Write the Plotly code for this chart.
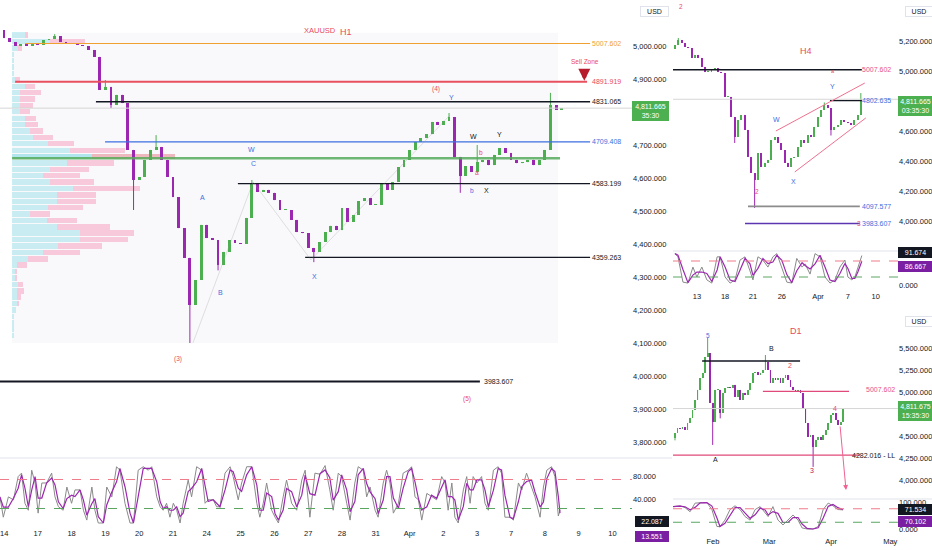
import plotly.graph_objects as go

W, H = 932, 550
def px(x): return x / W
def py(y): return 1 - y / H

GREEN = "#4caf50"
PURPLE = "#9c27b0"
RED = "#e84a5f"
BLUE = "#3d6fe0"
BLACK = "#131722"
ORANGE = "#f0a030"
PINK = "#e8528a"
FONT = "Liberation Sans Narrow, Liberation Sans, Arial, sans-serif"

# ---------------- H1 data (4-hour sampling of the hourly chart) ----------------
h1_day_labels = ["14", "17", "18", "19", "20", "21", "24", "25", "26", "27", "28",
                 "31", "Apr", "2", "3", "7", "8", "9", "10"]
h1_first_open = 5060
h1_close = [5048, 5024, 5012, 5000, 5006, 5000, 5009, 5003, 5018, 5021,
            5030, 5012, 5006, 5009, 5003, 5000, 4988, 4967, 4867, 4876,
            4821, 4852, 4827, 4685, 4594, 4603, 4655, 4685, 4694, 4655,
            4603, 4542, 4448, 4358, 4215, 4291, 4458, 4418, 4412, 4336,
            4376, 4412, 4403, 4400, 4479, 4585, 4558, 4564, 4555, 4533,
            4503, 4503, 4473, 4436, 4433, 4388, 4376, 4406, 4436, 4455,
            4442, 4509, 4467, 4488, 4530, 4539, 4518, 4518, 4582, 4564,
            4588, 4633, 4655, 4685, 4709, 4721, 4733, 4770, 4761, 4773,
            4785, 4664, 4606, 4636, 4618, 4648, 4655, 4639, 4670, 4691,
            4676, 4655, 4645, 4648, 4655, 4639, 4655, 4685, 4821, 4806,
            4811.665]
h1_high_wick = {0: 5079, 10: 5036, 19: 4897, 28: 4730, 45: 4594, 80: 4797, 85: 4700, 98: 4858}
h1_low_wick = {20: 4812, 24: 4503, 34: 4100, 39: 4320, 56: 4345, 82: 4555}
h1_levels = {"orange": 5007.602, "red": 4891.919, "black1": 4831.065, "blue": 4709.408,
             "black2": 4583.199, "black3": 4359.263, "black4": 3983.607}
h1_poc = 4660
h1_last = 4811.665

vp_price = [5033, 5014, 4994, 4975, 4956, 4936, 4917, 4897, 4878, 4859,
            4839, 4820, 4801, 4781, 4762, 4742, 4723, 4704, 4684, 4665,
            4646, 4626, 4607, 4588, 4568, 4549, 4529, 4510, 4491, 4471,
            4452, 4433, 4413, 4394, 4374, 4355, 4336, 4316, 4297, 4278,
            4258, 4239, 4219, 4200, 4181, 4161, 4142, 4122]
vp_up = [13, 38, 6, 2, 2, 2, 2, 3, 13, 8, 8, 8, 8, 13, 13, 18, 21, 36, 58, 80,
         55, 38, 31, 38, 61, 45, 45, 36, 18, 35, 45, 68, 68, 46, 31, 16, 5, 3, 3, 6,
         5, 5, 5, 4, 2, 2, 2, 2]
vp_down = [3, 35, 4, 0, 0, 0, 0, 5, 10, 21, 15, 13, 10, 11, 13, 13, 20, 26, 55, 83,
           47, 39, 37, 44, 67, 39, 39, 35, 20, 30, 53, 54, 48, 44, 37, 20, 10, 2, 2, 5,
           7, 4, 2, 0, 0, 0, 0, 0]

h1_stoch_t = [-0.12, -0.02, 0.13, 0.28, 0.42, 0.52, 0.62, 0.72, 0.82, 0.92,
              1.01, 1.12, 1.26, 1.41, 1.51, 1.61, 1.75, 1.86, 2.00, 2.10,
              2.25, 2.35, 2.45, 2.60, 2.69, 2.79, 2.94, 3.04, 3.19, 3.33,
              3.43, 3.58, 3.73, 3.83, 3.97, 4.12, 4.27, 4.37, 4.52, 4.62,
              4.71, 4.81, 4.91, 5.01, 5.11, 5.21, 5.30, 5.45, 5.55, 5.70,
              5.85, 5.95, 6.04, 6.19, 6.29, 6.39, 6.54, 6.69, 6.78, 6.93,
              7.03, 7.18, 7.33, 7.48, 7.57, 7.67, 7.77, 7.92, 8.02, 8.12,
              8.26, 8.36, 8.51, 8.66, 8.81, 8.91, 9.05, 9.20, 9.35,
              9.50, 9.64, 9.74, 9.89, 9.99, 10.14, 10.24, 10.38, 10.48, 10.63,
              10.73, 10.83, 10.98, 11.07, 11.22, 11.32, 11.42, 11.52, 11.67, 11.81,
              11.96, 12.06, 12.16, 12.26, 12.36, 12.51, 12.65, 12.80, 12.95, 13.05,
              13.14, 13.25, 13.34, 13.44, 13.59, 13.69, 13.79, 13.88, 13.99, 14.13,
              14.23, 14.33, 14.48, 14.62, 14.72, 14.82, 14.97, 15.07, 15.22, 15.32,
              15.46, 15.61, 15.71, 15.86, 15.96, 16.06, 16.20, 16.30, 16.40, 16.45]
h1_stoch_k = [45, 10, 45, 40, 80, 86, 34, 22, 91, 69,
              17, 69, 69, 86, 45, 28, 22, 62, 34, 57,
              57, 22, 5, 62, 22, 0, 0, 62, 45, 97,
              91, 34, 0, 0, 91, 97, 91, 97, 45, 28,
              22, 34, 10, 34, 22, 0, 34, 74, 45, 97,
              91, 34, 40, 40, 28, 28, 86, 97, 80, 40,
              69, 97, 97, 34, 10, 34, 69, 22, 10, 0,
              45, 74, 34, 22, 74, 91, 10, 86, 84,
              99, 57, 22, 86, 80, 34, 5, 69, 97, 91,
              45, 62, 22, 10, 69, 91, 69, 17, 34, 86,
              91, 97, 45, 40, 5, 51, 45, 40, 80, 69,
              22, 69, 10, 0, 57, 80, 34, 80, 69, 80,
              34, 22, 91, 97, 86, 10, 10, 5, 69, 57,
              86, 62, 45, 10, 62, 91, 97, 80, 12, 22]

# ---------------- H4 data ----------------
h4_date_labels = ["13", "18", "21", "26", "Apr", "7", "10"]
h4_date_pos = [6.6, 15.1, 23.5, 32.2, 43.1, 52.1, 60.5]
h4_first_open = 5150
h4_close = [5173, 5207, 5187, 5160, 5153, 5087, 5107, 5087, 5027, 4993,
            4993, 5007, 5020, 4993, 4987, 4827, 4827, 4693, 4560, 4673,
            4707, 4607, 4427, 4320, 4273, 4453, 4360, 4387, 4407, 4540,
            4560, 4520, 4473, 4387, 4360, 4420, 4427, 4493, 4540, 4520,
            4573, 4560, 4627, 4693, 4740, 4773, 4753, 4607, 4627, 4640,
            4673, 4660, 4653, 4640, 4673, 4707, 4811.665]
h4_high_wick = {1: 5220, 45: 4790, 56: 4853}
h4_low_wick = {18: 4520, 24: 4087, 47: 4570}
h4_levels = {"top": 5007.602, "mid": 4802.635, "gray": 4097.577, "purple": 3983.607}
h4_stoch_t = [0, 0.9, 2.4, 3.9, 5.4, 6.6, 8.1, 9.6, 11.1, 12.7,
              13.6, 15.1, 16.6, 18.1, 19.6, 21.1, 22.6, 23.5, 25.0, 26.5,
              28.0, 29.5, 30.7, 32.2, 33.7, 35.2, 36.7, 38.3, 39.2, 40.7,
              42.2, 43.7, 45.2, 46.7, 48.2, 49.7, 51.2, 52.1, 53.3, 54.2,
              55.1, 56.3]
h4_stoch_k = [98, 88, 9, 6, 56, 25, 56, 16, 6, 88,
              88, 25, 6, 16, 78, 88, 44, 16, 88, 78,
              56, 88, 98, 56, 9, 6, 83, 56, 66, 34,
              98, 88, 25, 6, 16, 56, 78, 25, 16, 25,
              56, 92]

# ---------------- D1 data ----------------
d1_date_labels = ["Feb", "Mar", "Apr", "May"]
d1_date_pos = [15.1, 37.5, 62.2, 85.7]
d1_first_open = 4480
d1_close = [4534, 4590, 4580, 4600, 4568, 4648, 4705, 4795, 4909, 5023,
            5159, 5216, 5398, 5443, 4875, 4659, 5023, 5023, 4761, 4989,
            5045, 5057, 5045, 5080, 4943, 5023, 4909, 4989, 4966, 5023,
            5102, 5216, 5227, 5193, 5216, 5250, 5341, 5250, 5102, 5159,
            5136, 5159, 5102, 5159, 5193, 5136, 5057, 5023, 5000, 5023,
            4989, 4818, 4648, 4489, 4511, 4375, 4455, 4489, 4455, 4511,
            4568, 4648, 4739, 4761, 4682, 4625, 4659, 4811.675]
d1_high_wick = {13: 5614, 36: 5420}
d1_low_wick = {0: 4450, 15: 4398, 18: 4700, 55: 4148}
d1_levels = {"black": 5352, "pink": 5007.602, "ll": 4282.016}
d1_stoch_t = [-0.8, 2.0, 4.0, 6.0, 8.0, 10.0, 12.7, 14.7, 16.7, 17.9,
              19.9, 21.9, 23.9, 25.9, 27.9, 29.9, 31.9, 33.9, 35.9, 37.1,
              39.0, 41.0, 43.0, 45.0, 47.0, 49.0, 50.6, 52.6, 55.0, 57.0,
              59.0, 61.0, 62.9, 64.9, 66.9]
d1_stoch_k = [83, 86, 79, 64, 96, 98, 98, 72, 9, 9,
              33, 72, 86, 72, 46, 33, 72, 83, 58, 46,
              83, 33, 15, 33, 52, 33, 4, 0, 0, 9,
              72, 96, 86, 72, 71]


def ohlc(first_open, closes, hw, lw):
    o = [first_open] + closes[:-1]
    h = [max(a, b) for a, b in zip(o, closes)]
    l = [min(a, b) for a, b in zip(o, closes)]
    for k, v in hw.items():
        h[k] = max(h[k], v)
    for k, v in lw.items():
        l[k] = min(l[k], v)
    return o, h, l


def smooth2(vals):
    return [vals[0]] + [(vals[i] + vals[i - 1]) / 2 for i in range(1, len(vals))]


fig = go.Figure()


def add_candles(t, o, h, l, c, xa, ya, body_w, min_body):
    for up, col in ((True, GREEN), (False, PURPLE)):
        idx = [i for i in range(len(c)) if (c[i] >= o[i]) == up]
        wx, wy = [], []
        for i in idx:
            wx += [t[i], t[i], None]
            wy += [l[i], h[i], None]
        fig.add_trace(go.Scatter(x=wx, y=wy, mode="lines", line=dict(color=col, width=1),
                                 xaxis=xa, yaxis=ya, hoverinfo="skip", showlegend=False))
        fig.add_trace(go.Bar(x=[t[i] for i in idx],
                             y=[max(abs(c[i] - o[i]), min_body) for i in idx],
                             base=[min(o[i], c[i]) for i in idx], width=body_w,
                             marker=dict(color=col, line_width=0), xaxis=xa, yaxis=ya,
                             hoverinfo="skip", showlegend=False))


# ---- H1 volume profile (on main axis, scaled) ----
vp_start = 0.24
vp_scale = 1 / 33.8
poc_i = max(range(len(vp_up)), key=lambda i: vp_up[i] + vp_down[i])
cy_cols = ["rgba(120,215,228,0.38)" if i != poc_i else "rgba(120,215,228,0.55)" for i in range(len(vp_up))]
pk_cols = ["rgba(244,143,177,0.45)" if i != poc_i else "rgba(225,120,130,0.5)" for i in range(len(vp_up))]
fig.add_trace(go.Bar(orientation="h", y=vp_price, x=[v * vp_scale for v in vp_up],
                     base=[vp_start] * len(vp_up), width=16.5,
                     marker=dict(color=cy_cols, line_width=0), xaxis="x", yaxis="y",
                     hoverinfo="skip", showlegend=False))
fig.add_trace(go.Bar(orientation="h", y=vp_price, x=[v * vp_scale for v in vp_down],
                     base=[vp_start + u * vp_scale for u in vp_up], width=16.5,
                     marker=dict(color=pk_cols, line_width=0), xaxis="x", yaxis="y",
                     hoverinfo="skip", showlegend=False))

# ---- H1 candles ----
o, h, l = ohlc(h1_first_open, h1_close, h1_high_wick, h1_low_wick)
h1_t = [(i - 1) / 6 for i in range(len(h1_close))]
add_candles(h1_t, o, h, l, h1_close, "x", "y", 0.085, 3)

# ---- H1 stochastic ----
fig.add_trace(go.Scatter(x=h1_stoch_t, y=h1_stoch_k, mode="lines", line=dict(color="#8a8a8a", width=1),
                         xaxis="x", yaxis="y2", showlegend=False, hoverinfo="skip"))
fig.add_trace(go.Scatter(x=h1_stoch_t, y=smooth2(h1_stoch_k), mode="lines", line=dict(color=PURPLE, width=1.2),
                         xaxis="x", yaxis="y2", showlegend=False, hoverinfo="skip"))

# ---- H4 ----
o4, h4h, h4l = ohlc(h4_first_open, h4_close, h4_high_wick, h4_low_wick)
add_candles(list(range(len(h4_close))), o4, h4h, h4l, h4_close, "x3", "y3", 0.6, 7)
fig.add_trace(go.Scatter(x=h4_stoch_t, y=h4_stoch_k, mode="lines", line=dict(color="#8a8a8a", width=1),
                         xaxis="x3", yaxis="y4", showlegend=False, hoverinfo="skip"))
fig.add_trace(go.Scatter(x=h4_stoch_t, y=smooth2(h4_stoch_k), mode="lines", line=dict(color=PURPLE, width=1.2),
                         xaxis="x3", yaxis="y4", showlegend=False, hoverinfo="skip"))

# ---- D1 ----
od, hd, ld = ohlc(d1_first_open, d1_close, d1_high_wick, d1_low_wick)
add_candles(list(range(len(d1_close))), od, hd, ld, d1_close, "x4", "y5", 0.7, 12)
fig.add_trace(go.Scatter(x=d1_stoch_t, y=d1_stoch_k, mode="lines", line=dict(color="#8a8a8a", width=1),
                         xaxis="x4", yaxis="y6", showlegend=False, hoverinfo="skip"))
fig.add_trace(go.Scatter(x=d1_stoch_t, y=smooth2(d1_stoch_k), mode="lines", line=dict(color=PURPLE, width=1.2),
                         xaxis="x4", yaxis="y6", showlegend=False, hoverinfo="skip"))

shapes = []
def hline(xr, yr, x0, x1, yv, color, width=1, dash="solid", layer="above"):
    shapes.append(dict(type="line", xref=xr, yref=yr, x0=x0, x1=x1, y0=yv, y1=yv,
                       line=dict(color=color, width=width, dash=dash), layer=layer))
def seg(xr, yr, x0, y0, x1, y1, color, width=1):
    shapes.append(dict(type="line", xref=xr, yref=yr, x0=x0, x1=x1, y0=y0, y1=y1,
                       line=dict(color=color, width=width)))

shapes.append(dict(type="rect", xref="x", yref="y", x0=0.24, x1=16.39, y0=4100, y1=5040,
                   fillcolor="rgba(235,236,242,0.3)", line_width=0, layer="below"))
hline("x domain", "y", 0, 1, h1_last, "#d6d6d6", 1)
hline("x", "y", 0.62, 17.34, h1_levels["orange"], ORANGE, 1.2)
hline("x", "y", 0.33, 17.25, h1_levels["red"], "#e8505f", 2)
hline("x", "y", 2.72, 17.34, h1_levels["black1"], BLACK, 1.3)
hline("x", "y", 2.99, 17.34, h1_levels["blue"], BLUE, 1.3)
hline("x", "y", 0.24, 16.45, h1_poc, "rgba(86,170,90,0.85)", 2.5)
hline("x", "y", 6.92, 17.34, h1_levels["black2"], BLACK, 1.3)
hline("x", "y", 8.91, 17.34, h1_levels["black3"], BLACK, 1.3)
hline("x", "y", -0.12, 14.08, h1_levels["black4"], BLACK, 2)
for (a, b, c, d) in [(5.59, 4100, 7.37, 4588), (7.37, 4588, 9.08, 4352), (9.08, 4352, 13.2, 4791)]:
    seg("x", "y", a, b, c, d, "rgba(150,150,150,0.35)", 0.8)
hline("x domain", "y2", 0, 1, 75, "#ef7b8a", 1, "dash")
hline("x domain", "y2", 0, 1, 25, "#5aa660", 1, "dash")

hline("x3 domain", "y3", 0, 1, h4_close[-1], "#d6d6d6", 1)
hline("x3", "y3", -0.6, 56.3, h4_levels["top"], BLACK, 1.5)
hline("x3", "y3", 46.7, 56.3, h4_levels["mid"], BLACK, 1.3)
hline("x3", "y3", 22.0, 55.7, h4_levels["gray"], "#8c8c8c", 1.8)
hline("x3", "y3", 21.1, 55.7, h4_levels["purple"], "#5e35b1", 1.5)
seg("x3", "y3", 30.4, 4600, 57.2, 4920, "#f07090", 1)
seg("x3", "y3", 36.1, 4327, 57.5, 4687, "#f07090", 1)
hline("x3 domain", "y4", 0, 1, 75, "#ef7b8a", 1, "dash")
hline("x3 domain", "y4", 0, 1, 25, "#5aa660", 1, "dash")

hline("x4 domain", "y5", 0, 1, d1_close[-1], "#d6d6d6", 1)
hline("x4", "y5", 10.8, 49.8, d1_levels["black"], BLACK, 1.5)
hline("x4", "y5", 35.0, 69.3, d1_levels["pink"], "#e04a7a", 1.2)
hline("x4", "y5", -0.8, 73.7, d1_levels["ll"], "#e04a7a", 1.2)
hline("x4 domain", "y6", 0, 1, 75, "#ef7b8a", 1, "dash")
hline("x4 domain", "y6", 0, 1, 25, "#5aa660", 1, "dash")

for (x0, x1, yy) in [(0, 672, 458), (673, 932, 251), (673, 932, 499)]:
    shapes.append(dict(type="line", xref="paper", yref="paper", x0=px(x0), x1=px(x1),
                       y0=py(yy), y1=py(yy), line=dict(color="#e0e3eb", width=1)))

annotations = []
def txt(x, y, s, color=BLACK, size=7, xanchor="center"):
    annotations.append(dict(x=px(x), y=py(y), xref="paper", yref="paper", text=s,
                            showarrow=False, xanchor=xanchor, yanchor="middle",
                            font=dict(family=FONT, size=size, color=color)))
def lvl(x, yref, yv, s, color, xanchor="center"):
    annotations.append(dict(x=px(x), y=yv, xref="paper", yref=yref, text=s, showarrow=False,
                            xanchor=xanchor, yanchor="middle", font=dict(family=FONT, size=7, color=color)))
def box(x0, x1, yc, s, bg, fg="white", size=7, border=None):
    annotations.append(dict(x=px((x0 + x1) / 2), y=py(yc), xref="paper", yref="paper", text=s,
                            showarrow=False, xanchor="center", yanchor="middle", bgcolor=bg,
                            bordercolor=border or bg, borderpad=1, width=x1 - x0 - 2,
                            font=dict(family=FONT, size=size, color=fg)))

txt(320, 30, "XAUUSD", RED, 7.5)
txt(346, 32, "H1", RED, 9)
txt(436, 89, "(4)", RED, 6.5)
txt(451, 97, "Y", BLUE, 7)
txt(474, 136, "W", BLACK, 7)
txt(499, 134, "Y", BLACK, 7)
txt(481, 152, "b", RED, 6.5)
txt(477, 172, "a", RED, 6.5)
txt(472, 190, "b", BLUE, 6.5)
txt(486, 190, "X", BLACK, 7)
txt(251, 149, "W", BLUE, 7)
txt(253, 164, "C", BLUE, 7)
txt(202, 197, "A", BLUE, 7)
txt(220, 292, "B", BLUE, 7)
txt(314, 276, "X", BLUE, 7)
txt(178, 359, "(3)", RED, 6.5)
txt(467, 399, "(5)", RED, 6.5)
txt(584.5, 61, "Sell Zone", RED, 6.5)
txt(4, 533, "14", BLACK, 7.5)
annotations.append(dict(x=17.17, y=4895, ax=17.17, ay=4932, xref="x", yref="y", axref="x", ayref="y",
                        showarrow=True, arrowhead=2, arrowsize=0.6, arrowwidth=4, arrowcolor="#b71c2c", text=""))
lvl(606, "y", h1_levels["orange"], "5007.602", ORANGE)
lvl(606, "y", h1_levels["red"], "4891.919", RED)
lvl(606, "y", h1_levels["black1"], "4831.065", BLACK)
lvl(606, "y", h1_levels["blue"], "4709.408", BLUE)
lvl(606, "y", h1_levels["black2"], "4583.199", BLACK)
lvl(606, "y", h1_levels["black3"], "4359.263", BLACK)
lvl(482, "y", h1_levels["black4"], "3983.607", BLACK, "left")

txt(681, 7, "2", RED, 6.5)
txt(806, 51, "H4", RED, 9)
txt(776, 120, "W", BLUE, 7)
txt(793, 181, "X", BLUE, 7)
txt(832, 86, "Y", BLUE, 7)
txt(833, 71, "a", RED, 5.5)
txt(757, 191, "2", RED, 6.5)
txt(859, 223, "3", RED, 6.5)
lvl(876, "y3", h4_levels["top"], "5007.602", PINK)
lvl(876, "y3", h4_levels["mid"], "4802.635", BLUE)
lvl(876, "y3", h4_levels["gray"], "4097.577", BLUE)
lvl(876, "y3", h4_levels["purple"], "3983.607", BLUE)

txt(708, 335, "5", BLUE, 6.5)
txt(715, 460, "A", BLACK, 7)
txt(771, 348, "B", BLACK, 7)
txt(790, 365, "2", RED, 7)
txt(812, 470, "3", "#c2185b", 7)
txt(835, 408, "4", RED, 7)
txt(796, 331, "D1", RED, 9)
txt(880, 389, "5007.602", PINK, 7)
txt(873, 455, "4282.016 - LL", BLACK, 7)
annotations.append(dict(x=68.1, y=3886, ax=65.7, ay=4625, xref="x4", yref="y5", axref="x4", ayref="y5",
                        showarrow=True, arrowhead=2, arrowsize=1, arrowwidth=1, arrowcolor="#f06292", text=""))

box(633, 668, 111, "4,811.665<br>35:30", GREEN)
box(899, 932, 106, "4,811.665<br>03:35:30", GREEN)
box(899, 932, 411, "4,811.675<br>15:35:30", GREEN)
box(636, 668, 521, "22.087", "#131722")
box(636, 668, 536, "13.551", "#7b1fa2")
box(899, 932, 253, "91.674", "#131722")
box(899, 932, 266, "86.667", "#7b1fa2")
box(899, 932, 509, "71.534", "#131722")
box(899, 932, 521, "70.102", "#7b1fa2")
box(641, 668, 11, "USD", "white", BLACK, 7, "#e0e3eb")
box(906, 932, 11, "USD", "white", BLACK, 7, "#e0e3eb")
box(906, 932, 321, "USD", "white", BLACK, 7, "#e0e3eb")

tickfont = dict(family=FONT, size=7.5, color=BLACK)
common_x = dict(showgrid=False, zeroline=False, showline=False, ticks="", tickfont=tickfont,
                fixedrange=True, automargin=False)
common_y = dict(showgrid=False, zeroline=False, showline=False, ticks="", side="right",
                tickfont=tickfont, fixedrange=True, automargin=False)

fig.update_layout(
    width=W, height=H, margin=dict(l=0, r=0, t=0, b=0, autoexpand=False),
    paper_bgcolor="white", plot_bgcolor="white", showlegend=False, hovermode=False,
    barmode="overlay", bargap=0,
    xaxis=dict(domain=[0, px(632)], range=[-0.118, 18.58], anchor="y2",
               tickvals=list(range(1, len(h1_day_labels))), ticktext=h1_day_labels[1:], **common_x),
    yaxis=dict(domain=[py(457), 1], range=[3754.5, 5139.4], anchor="x",
               tickvals=[3800, 3900, 4000, 4100, 4200, 4300, 4400, 4500, 4600, 4700, 4900, 5000],
               tickformat=",.3f", **common_y),
    yaxis2=dict(domain=[py(527), py(460)], range=[-6.9, 108.6], anchor="x",
                tickvals=[40, 80], tickformat=".3f", **common_y),
    xaxis3=dict(domain=[px(673), px(898)], range=[-0.6, 67.2], anchor="y4",
                tickvals=h4_date_pos, ticktext=h4_date_labels, **common_x),
    yaxis3=dict(domain=[py(250), 1], range=[3806.7, 5473.3], anchor="x3",
                tickvals=[4000, 4200, 4400, 4600, 5000, 5200], tickformat=",.3f", **common_y),
    yaxis4=dict(domain=[py(290), py(252)], range=[-15.6, 103.1], anchor="x3",
                tickvals=[0], tickformat=".3f", **common_y),
    xaxis4=dict(domain=[px(673), px(898)], range=[-0.8, 88.8], anchor="y6",
                tickvals=d1_date_pos, ticktext=d1_date_labels, **common_x),
    yaxis5=dict(domain=[py(498), py(303)], range=[3795, 6011], anchor="x4",
                tickvals=[4000, 4250, 4500, 5000, 5250, 5500], tickformat=",.3f", **common_y),
    yaxis6=dict(domain=[py(535), py(500)], range=[-22.2, 107.4], anchor="x4",
                tickvals=[0, 100], tickformat=".3f", **common_y),
    shapes=shapes, annotations=annotations,
)

fig.write_html("out.html", config={"displayModeBar": False, "staticPlot": True},
               post_script="document.body.style.margin='0';document.body.style.overflow='hidden';")
